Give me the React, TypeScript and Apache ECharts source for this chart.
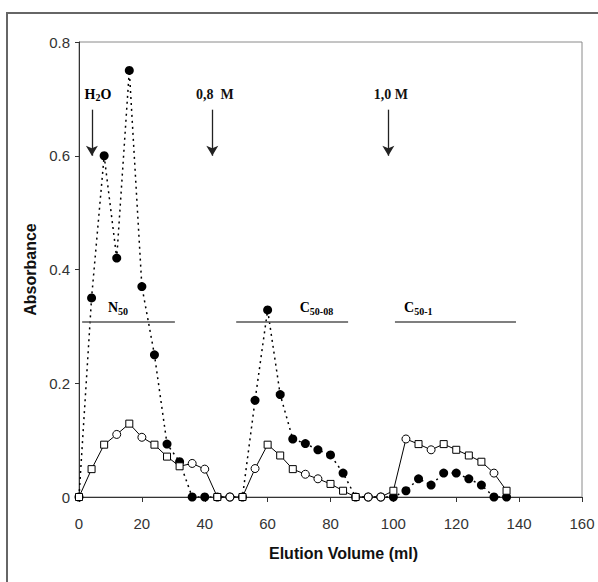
import React, { useEffect, useRef } from "react";
import * as echarts from "echarts";

// Elution volume (ml) of each fraction
const volumes = [0, 4, 8, 12, 16, 20, 24, 28, 32, 36, 40, 44, 48, 52, 56, 60, 64, 68, 72, 76, 80, 84, 88, 92, 96, 100, 104, 108, 112, 116, 120, 124, 128, 132, 136];
// Filled circles (dotted line)
const filledAbs = [0, 0.35, 0.6, 0.42, 0.75, 0.37, 0.25, 0.093, 0.062, 0, 0, 0, 0, 0, 0.17, 0.329, 0.18, 0.102, 0.094, 0.083, 0.074, 0.042, 0, 0, 0, 0, 0.011, 0.032, 0.021, 0.042, 0.042, 0.032, 0.021, 0, 0];
// Open markers (solid line)
const openAbs = [0, 0.049, 0.092, 0.11, 0.129, 0.105, 0.092, 0.071, 0.054, 0.059, 0.049, 0, 0, 0, 0.05, 0.092, 0.073, 0.049, 0.04, 0.032, 0.023, 0.011, 0, 0, 0, 0.011, 0.102, 0.093, 0.083, 0.093, 0.083, 0.073, 0.062, 0.042, 0.011];
const openShapes = ["rect", "rect", "rect", "circle", "rect", "circle", "rect", "rect", "rect", "circle", "circle", "rect", "circle", "rect", "circle", "rect", "rect", "rect", "circle", "circle", "rect", "rect", "rect", "circle", "circle", "rect", "circle", "rect", "circle", "rect", "rect", "rect", "rect", "circle", "rect"];

// Fractions pooled: [start ml, end ml, level]
const fractionNames = ["N", "C", "C"];
const fractionSubs = ["50", "50-08", "50-1"];
const fractionStart = [1, 50, 100.5];
const fractionEnd = [30.5, 85.6, 139];
const fractionLevel = 0.308;
const fractionLabelX = [9.2, 70.2, 103.4];
const fractionLabelY = 0.333;

// Eluent steps
const stepVolumes = [4.1, 42.4, 98.4];
const stepLabels = ["H2O", "0,8  M", "1,0 M"];
const arrowTop = 0.681;
const arrowTip = 0.6;
const stepLabelY = 0.708;

const xMin = 0, xMax = 160, xStep = 20;
const yMin = 0, yMax = 0.8, yStep = 0.2;

const SERIF = "'Liberation Serif', 'Times New Roman', serif";
const SANS = "'Liberation Sans', Arial, sans-serif";

export default function App() {
  const ref = useRef<HTMLDivElement>(null);
  useEffect(() => {
    if (!ref.current) return;
    const chart = echarts.init(ref.current, undefined, { renderer: "svg" });
    const base: any = {
      animation: false,
      grid: { left: 79, top: 42, right: 16, bottom: 85, show: true, borderColor: "#8a8a8a", borderWidth: 1, containLabel: false },
      xAxis: {
        type: "value", min: xMin, max: xMax, interval: xStep,
        name: "Elution Volume (ml)", nameLocation: "middle", nameGap: 48,
        nameTextStyle: { fontFamily: SANS, fontWeight: "bold", fontSize: 16, color: "#111", padding: [0, 0, 0, 26] },
        axisLine: { show: true, onZero: false, lineStyle: { color: "#333", width: 1 } },
        axisTick: { show: true, inside: false, length: 5, lineStyle: { color: "#333" } },
        axisLabel: { fontFamily: SANS, fontSize: 15, color: "#333", margin: 19 },
        splitLine: { show: false },
      },
      yAxis: {
        type: "value", min: yMin, max: yMax, interval: yStep,
        name: "Absorbance", nameLocation: "middle", nameGap: 37, nameRotate: 90,
        nameTextStyle: { fontFamily: SANS, fontWeight: "bold", fontSize: 16, color: "#111" },
        axisLine: { show: true, onZero: false, lineStyle: { color: "#333", width: 1 } },
        axisTick: { show: true, inside: false, length: 4, lineStyle: { color: "#333" } },
        axisLabel: { fontFamily: SANS, fontSize: 15, color: "#333", margin: 9 },
        splitLine: { show: false },
      },
      series: [
        {
          type: "line", name: "filled", z: 2,
          data: volumes.map((v, i) => [v, filledAbs[i]]),
          symbol: "circle", symbolSize: 9,
          itemStyle: { color: "#000" },
          lineStyle: { color: "#000", width: 1.5, type: [2, 4] },
        },
        {
          type: "line", name: "open", z: 3,
          data: volumes.map((v, i) => ({ value: [v, openAbs[i]], symbol: openShapes[i], symbolSize: openShapes[i] === "rect" ? 7 : 8 })),
          itemStyle: { color: "#fff", borderColor: "#000", borderWidth: 1 },
          lineStyle: { color: "#000", width: 1 },
        },
        {
          type: "line", name: "marks", data: [], silent: true,
          markLine: {
            silent: true, animation: false, symbol: ["none", "none"], label: { show: false },
            lineStyle: { color: "#555", width: 1.5, type: "solid" },
            data: fractionStart.map((s, i) => [{ coord: [s, fractionLevel] }, { coord: [fractionEnd[i], fractionLevel] }]),
          },
        },
        {
          type: "line", name: "arrows", data: [], silent: true,
          markLine: {
            silent: true, animation: false, symbol: ["none", "arrow"], symbolSize: [9, 10], label: { show: false },
            lineStyle: { color: "#222", width: 1.3, type: "solid" },
            itemStyle: { color: "#111" },
            data: stepVolumes.map((v) => [{ coord: [v, arrowTop] }, { coord: [v, arrowTip] }]),
          },
        },
      ],
    };
    chart.setOption(base);

    const px = (x: number, y: number) => chart.convertToPixel({ gridIndex: 0 }, [x, y]) as number[];
    const graphics: any[] = [
      { type: "rect", z: -1, shape: { x: 7, y: 13, width: 700, height: 700 }, style: { fill: "none", stroke: "#666", lineWidth: 2 } },
    ];
    const rich = {
      b: { fontFamily: SERIF, fontWeight: "bold", fontSize: 14, color: "#111" },
      s: { fontFamily: SERIF, fontWeight: "bold", fontSize: 10, color: "#111", padding: [7, 0, 0, 0] },
    };
    // step labels
    stepLabels.forEach((t, i) => {
      if (i === 0) {
        const p = px(1.75, stepLabelY);
        graphics.push({ type: "text", x: p[0], y: p[1], style: { text: "{b|H}{s|2}{b|O}", rich, align: "left", verticalAlign: "middle" } });
      } else {
        const p = px(stepVolumes[i] + 0.8, stepLabelY);
        graphics.push({ type: "text", x: p[0], y: p[1], style: { text: t, fontFamily: SERIF, fontWeight: "bold", fontSize: 14, fill: "#111", align: "center", verticalAlign: "middle" } });
      }
    });
    fractionNames.forEach((n, i) => {
      const p = px(fractionLabelX[i], fractionLabelY);
      graphics.push({ type: "text", x: p[0], y: p[1], style: { text: `{b|${n}}{s|${fractionSubs[i]}}`, rich, align: "left", verticalAlign: "middle" } });
    });
    chart.setOption({ graphic: graphics });

    return () => chart.dispose();
  }, []);
  return <div ref={ref} style={{ position: "absolute", left: 0, top: 0, width: 598, height: 582, background: "#fff" }} />;
}
